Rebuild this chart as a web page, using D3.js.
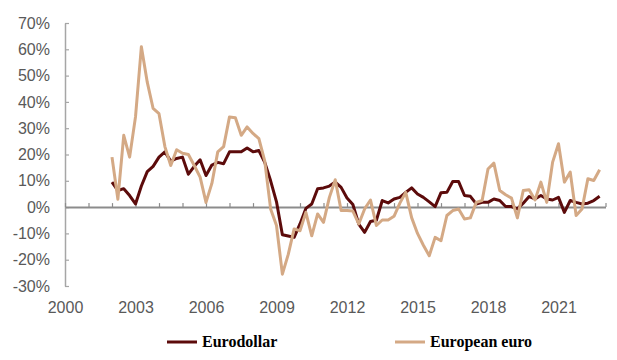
<!DOCTYPE html>
<html>
<head>
<meta charset="utf-8">
<script src="https://cdn.jsdelivr.net/npm/d3@7"></script>
<style>
  html, body { margin: 0; padding: 0; background: #ffffff; }
  svg { display: block; }
</style>
</head>
<body>
<svg id="chart" width="617" height="360"></svg>
<script>
// ---- Data (quarterly, 2002 Q1 to 2022 Q4) ----
const startYear = 2002;
const quarterCount = 84;
const quarters = d3.range(quarterCount).map(i => startYear + i / 4);

const seriesNames = ["Eurodollar", "European euro"];

const eurodollar = [
  9.5, 6.3, 7, 4.4,
  1.2, 8, 13.5, 15.5,
  19, 21, 17.5, 18.5,
  19, 12.5, 15.5, 18,
  12, 16, 17, 16.5,
  21, 21, 21, 22.5,
  21, 21.5, 17, 10,
  2, -10.5, -11, -11.5,
  -6.4, -0.5, 1.2, 7,
  7.3, 8, 9.5, 7.5,
  3.5, 1, -6.5, -9.6,
  -5.5, -5, 2.5, 1.6,
  3.1, 3.7, 5.6, 7.3,
  5, 3.7, 2, 0.2,
  5.5, 5.6, 9.7, 9.7,
  4.4, 4.1, 1.2, 1.8,
  1.8, 3.1, 2.5, 0.2,
  0.2, -0.7, 1.5, 4,
  3.1, 4.4, 3.1, 2.7,
  3.7, -2, 2.5, 1.8,
  1.2, 1.5, 2.5, 4.1
];

const europeanEuro = [
  19, 3, 27.3, 19,
  34.3, 61, 47.5, 37.5,
  35.5, 23, 15.8, 21.8,
  20.5, 20, 15.8, 11.4,
  1.8, 9, 21, 23,
  34.3, 34, 27.3, 30.5,
  28, 26, 17.5, -0.7,
  -7, -25.5, -18, -8.3,
  -9, -2, -10.9, -2.6,
  -5.8, 3.7, 10.4, -1.3,
  -1.3, -1.5, -6.4, -0.7,
  2.7, -7, -4.9, -4.9,
  -3.5, 1.5, 5.6, -4,
  -10, -14.5, -18.5, -11.5,
  -12.8, -3.2, -1.3, -0.7,
  -4.5, -4.1, 1.8, 2.5,
  14.5, 16.7, 6.3, 4.7,
  3.4, -4.1, 6.3, 6.6,
  2.7, 9.5, 1.8, 17.1,
  24.1, 9.5, 13.3, -3.2,
  -0.7, 10.8, 10.1, 14.2
];

const seriesValues = [eurodollar, europeanEuro];
const seriesColors = ["#5c0b0b", "#d4a985"];

const yTickValues = [-30, -20, -10, 0, 10, 20, 30, 40, 50, 60, 70];
const xMinorTicks = d3.range(2000, 2024);
const xLabelTicks = [2000, 2003, 2006, 2009, 2012, 2015, 2018, 2021];

// ---- Layout ----
const svg = d3.select("#chart");
const x = d3.scaleLinear().domain([2000, 2023]).range([65, 605.5]);
const y = d3.scaleLinear().domain([-30, 70]).range([286, 23]);

const axisGray = "#8c8c8c";
const labelGray = "#595959";
const fontFamily = "'Liberation Sans', Arial, sans-serif";

// Y axis (ticks pointing inward, labels on the left)
const yAxis = d3.axisLeft(y)
  .tickValues(yTickValues)
  .tickSizeInner(-4)
  .tickSizeOuter(0)
  .tickPadding(15)
  .tickFormat(d => d + "%");
const gy = svg.append("g").attr("transform", "translate(65,0)").call(yAxis);
gy.select(".domain").attr("stroke", "#a6a6a6").attr("stroke-width", 1.5);
gy.selectAll(".tick line").attr("stroke", "#a6a6a6").attr("stroke-width", 1.2);
gy.selectAll(".tick text")
  .attr("fill", labelGray)
  .style("font-family", fontFamily)
  .style("font-size", "16px");

// X axis line at zero with small upward ticks every year
const xAxisTicks = d3.axisTop(x)
  .tickValues(xMinorTicks)
  .tickSizeInner(4)
  .tickSizeOuter(0)
  .tickFormat("");
const gx = svg.append("g").attr("transform", `translate(0,${y(0)})`).call(xAxisTicks);
gx.select(".domain").attr("stroke", axisGray).attr("stroke-width", 2);
gx.selectAll(".tick line").attr("stroke", axisGray).attr("stroke-width", 1.2);

// X labels at the bottom
const xAxisLabels = d3.axisBottom(x)
  .tickValues(xLabelTicks)
  .tickSize(0)
  .tickPadding(0)
  .tickFormat(d3.format("d"));
const gxl = svg.append("g").attr("transform", "translate(0,301.5)").call(xAxisLabels);
gxl.select(".domain").remove();
gxl.selectAll(".tick text")
  .attr("fill", labelGray)
  .style("font-family", fontFamily)
  .style("font-size", "16px");

// Lines
const line = d3.line()
  .x((d, i) => x(quarters[i]))
  .y(d => y(d));

seriesValues.forEach((vals, k) => {
  svg.append("path")
    .datum(vals)
    .attr("fill", "none")
    .attr("stroke", seriesColors[k])
    .attr("stroke-width", 3)
    .attr("stroke-linejoin", "round")
    .attr("d", line);
});

// Legend
const legendX = [167, 395];
const legend = svg.append("g");
seriesNames.forEach((name, k) => {
  legend.append("line")
    .attr("x1", legendX[k]).attr("x2", legendX[k] + 30)
    .attr("y1", 342).attr("y2", 342)
    .attr("stroke", seriesColors[k])
    .attr("stroke-width", 3);
  legend.append("text")
    .attr("x", legendX[k] + 35)
    .attr("y", 347)
    .attr("fill", "#000")
    .style("font-family", "'Liberation Serif', 'Times New Roman', serif")
    .style("font-weight", "bold")
    .style("font-size", "16px")
    .text(name);
});
</script>
</body>
</html>
